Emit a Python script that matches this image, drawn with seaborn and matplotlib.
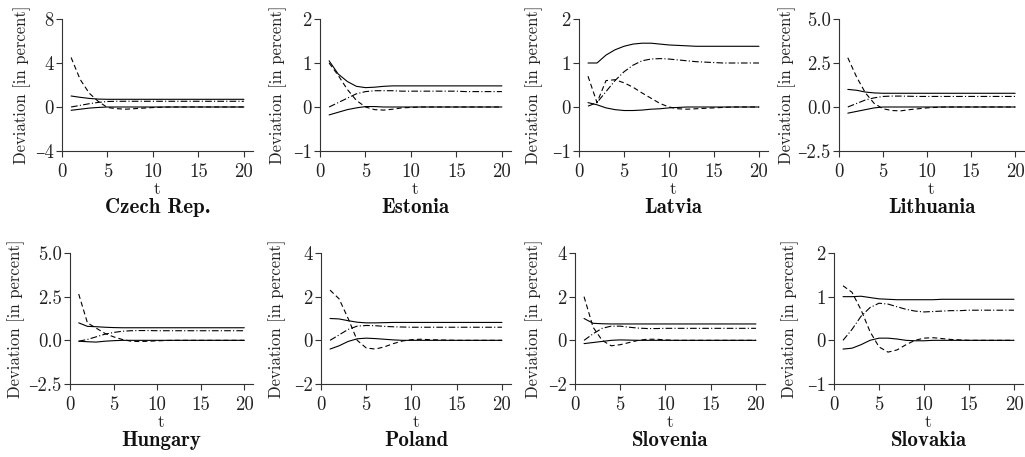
import numpy as np
import pandas as pd
import seaborn as sns
import matplotlib.pyplot as plt
from matplotlib.ticker import FuncFormatter

sns.set_style('ticks')
plt.rcParams['font.family'] = ['cmr10', 'DejaVu Serif']
plt.rcParams['mathtext.fontset'] = 'cm'
plt.rcParams['axes.formatter.use_mathtext'] = True

t = list(range(1, 21))

countries = ['Czech Rep.', 'Estonia', 'Latvia', 'Lithuania',
             'Hungary', 'Poland', 'Slovenia', 'Slovakia']

# solid line starting near 1
solid_a = {
    'Czech Rep.': [1.0, 0.88, 0.78, 0.72, 0.70, 0.70, 0.70, 0.70, 0.70, 0.70, 0.70, 0.70, 0.70, 0.70, 0.70, 0.70, 0.70, 0.70, 0.70, 0.70],
    'Estonia':    [1.05, 0.75, 0.58, 0.47, 0.44, 0.45, 0.47, 0.48, 0.48, 0.48, 0.48, 0.48, 0.48, 0.48, 0.48, 0.48, 0.48, 0.48, 0.48, 0.48],
    'Latvia':     [1.0, 1.0, 1.18, 1.30, 1.38, 1.43, 1.45, 1.45, 1.43, 1.41, 1.40, 1.39, 1.38, 1.38, 1.38, 1.38, 1.38, 1.38, 1.38, 1.38],
    'Lithuania':  [1.0, 0.95, 0.85, 0.80, 0.78, 0.78, 0.78, 0.78, 0.78, 0.78, 0.78, 0.78, 0.78, 0.78, 0.78, 0.78, 0.78, 0.78, 0.78, 0.78],
    'Hungary':    [1.0, 0.80, 0.78, 0.75, 0.73, 0.72, 0.72, 0.72, 0.72, 0.72, 0.72, 0.72, 0.72, 0.72, 0.72, 0.72, 0.72, 0.72, 0.72, 0.72],
    'Poland':     [1.0, 0.98, 0.90, 0.83, 0.80, 0.80, 0.81, 0.82, 0.82, 0.82, 0.82, 0.82, 0.82, 0.82, 0.82, 0.82, 0.82, 0.82, 0.82, 0.82],
    'Slovenia':   [1.0, 0.78, 0.76, 0.75, 0.75, 0.75, 0.75, 0.75, 0.75, 0.75, 0.75, 0.75, 0.75, 0.75, 0.75, 0.75, 0.75, 0.75, 0.75, 0.75],
    'Slovakia':   [1.0, 1.0, 1.01, 0.98, 0.95, 0.94, 0.93, 0.93, 0.93, 0.93, 0.93, 0.94, 0.94, 0.94, 0.94, 0.94, 0.94, 0.94, 0.94, 0.94],
}

# solid line converging to zero
solid_b = {
    'Czech Rep.': [-0.30, -0.20, -0.10, -0.04, 0.0, 0.0, 0.0, 0.0, 0.0, 0.0, 0.0, 0.0, 0.0, 0.0, 0.0, 0.0, 0.0, 0.0, 0.0, 0.0],
    'Estonia':    [-0.18, -0.12, -0.06, -0.02, 0.01, 0.01, 0.0, 0.0, 0.0, 0.0, 0.0, 0.0, 0.0, 0.0, 0.0, 0.0, 0.0, 0.0, 0.0, 0.0],
    'Latvia':     [0.10, 0.05, -0.02, -0.06, -0.08, -0.08, -0.07, -0.05, -0.04, -0.02, -0.01, 0.0, 0.0, 0.0, 0.0, 0.0, 0.0, 0.0, 0.0, 0.0],
    'Lithuania':  [-0.35, -0.25, -0.15, -0.05, 0.0, 0.0, 0.0, 0.0, 0.0, 0.0, 0.0, 0.0, 0.0, 0.0, 0.0, 0.0, 0.0, 0.0, 0.0, 0.0],
    'Hungary':    [-0.05, -0.08, -0.10, -0.05, -0.02, 0.0, 0.0, 0.0, 0.0, 0.0, 0.0, 0.0, 0.0, 0.0, 0.0, 0.0, 0.0, 0.0, 0.0, 0.0],
    'Poland':     [-0.40, -0.25, -0.05, 0.07, 0.10, 0.08, 0.05, 0.02, 0.0, 0.0, 0.0, 0.0, 0.0, 0.0, 0.0, 0.0, 0.0, 0.0, 0.0, 0.0],
    'Slovenia':   [-0.15, -0.10, -0.05, 0.0, 0.02, 0.01, 0.0, 0.0, 0.0, 0.0, 0.0, 0.0, 0.0, 0.0, 0.0, 0.0, 0.0, 0.0, 0.0, 0.0],
    'Slovakia':   [-0.20, -0.18, -0.10, 0.0, 0.05, 0.05, 0.03, 0.0, -0.01, -0.01, 0.0, 0.0, 0.0, 0.0, 0.0, 0.0, 0.0, 0.0, 0.0, 0.0],
}

# dashed line
dashed = {
    'Czech Rep.': [4.5, 2.5, 1.25, 0.5, -0.05, -0.15, -0.2, -0.15, -0.1, -0.05, -0.02, 0.0, 0.0, 0.0, 0.0, 0.0, 0.0, 0.0, 0.0, 0.0],
    'Estonia':    [1.0, 0.72, 0.40, 0.15, 0.0, -0.06, -0.07, -0.05, -0.02, -0.01, 0.0, 0.0, 0.0, 0.0, 0.0, 0.0, 0.0, 0.0, 0.0, 0.0],
    'Latvia':     [0.70, 0.10, 0.60, 0.62, 0.55, 0.45, 0.32, 0.20, 0.08, 0.0, -0.04, -0.05, -0.04, -0.03, -0.02, -0.01, 0.0, 0.0, 0.0, 0.0],
    'Lithuania':  [2.8, 1.7, 0.8, 0.2, -0.1, -0.2, -0.22, -0.15, -0.1, -0.05, -0.02, 0.0, 0.0, 0.0, 0.0, 0.0, 0.0, 0.0, 0.0, 0.0],
    'Hungary':    [2.65, 1.0, 0.7, 0.4, 0.2, 0.05, -0.05, -0.07, -0.05, -0.03, -0.01, 0.0, 0.0, 0.0, 0.0, 0.0, 0.0, 0.0, 0.0, 0.0],
    'Poland':     [2.3, 1.9, 1.0, 0.0, -0.35, -0.4, -0.3, -0.15, -0.03, 0.03, 0.05, 0.03, 0.02, 0.01, 0.0, 0.0, 0.0, 0.0, 0.0, 0.0],
    'Slovenia':   [2.0, 0.6, 0.0, -0.25, -0.2, -0.1, 0.0, 0.05, 0.05, 0.02, 0.0, 0.0, 0.0, 0.0, 0.0, 0.0, 0.0, 0.0, 0.0, 0.0],
    'Slovakia':   [1.25, 1.1, 0.7, 0.2, -0.15, -0.27, -0.22, -0.1, 0.0, 0.05, 0.06, 0.04, 0.02, 0.01, 0.0, 0.0, 0.0, 0.0, 0.0, 0.0],
}

# dash-dot line
dashdot = {
    'Czech Rep.': [0.0, 0.15, 0.3, 0.42, 0.5, 0.52, 0.52, 0.52, 0.52, 0.52, 0.52, 0.52, 0.52, 0.52, 0.52, 0.52, 0.52, 0.52, 0.52, 0.52],
    'Estonia':    [0.0, 0.10, 0.20, 0.30, 0.35, 0.37, 0.37, 0.37, 0.36, 0.36, 0.36, 0.36, 0.36, 0.36, 0.36, 0.35, 0.35, 0.35, 0.35, 0.35],
    'Latvia':     [0.02, 0.10, 0.35, 0.60, 0.80, 0.95, 1.05, 1.09, 1.10, 1.09, 1.07, 1.05, 1.03, 1.02, 1.01, 1.0, 1.0, 1.0, 1.0, 1.0],
    'Lithuania':  [0.0, 0.2, 0.4, 0.52, 0.6, 0.62, 0.62, 0.61, 0.6, 0.6, 0.6, 0.6, 0.6, 0.6, 0.6, 0.6, 0.6, 0.6, 0.6, 0.6],
    'Hungary':    [-0.05, 0.05, 0.2, 0.35, 0.45, 0.52, 0.55, 0.56, 0.56, 0.55, 0.55, 0.55, 0.55, 0.55, 0.55, 0.55, 0.55, 0.55, 0.55, 0.55],
    'Poland':     [0.0, 0.25, 0.5, 0.65, 0.68, 0.67, 0.64, 0.62, 0.61, 0.6, 0.6, 0.6, 0.6, 0.6, 0.6, 0.6, 0.6, 0.6, 0.6, 0.6],
    'Slovenia':   [0.0, 0.3, 0.55, 0.65, 0.65, 0.6, 0.56, 0.54, 0.54, 0.55, 0.55, 0.55, 0.55, 0.55, 0.55, 0.55, 0.55, 0.55, 0.55, 0.55],
    'Slovakia':   [0.0, 0.25, 0.55, 0.75, 0.85, 0.83, 0.77, 0.71, 0.67, 0.65, 0.66, 0.67, 0.68, 0.68, 0.69, 0.69, 0.69, 0.69, 0.69, 0.69],
}

yticks = {
    'Czech Rep.': [-4, 0, 4, 8],
    'Estonia': [-1, 0, 1, 2],
    'Latvia': [-1, 0, 1, 2],
    'Lithuania': [-2.5, 0.0, 2.5, 5.0],
    'Hungary': [-2.5, 0.0, 2.5, 5.0],
    'Poland': [-2, 0, 2, 4],
    'Slovenia': [-2, 0, 2, 4],
    'Slovakia': [-1, 0, 1, 2],
}

W, H = 1025, 457
fig = plt.figure(figsize=(W / 100, H / 100), dpi=100)

# pixel boxes of each panel (left, right, top, bottom) and x of the y-label's right edge
boxes = [(62, 253, 19, 151, 31), (320, 511, 19, 151, 287), (579, 768, 19, 151, 543), (839, 1024, 19, 151, 796),
         (70, 253, 253, 384, 25), (321, 511, 253, 384, 286), (575, 765, 253, 384, 543), (834, 1023, 253, 384, 799)]

styles = [(solid_a, '-'), (solid_b, '-'), (dashed, (0, (4.5, 2.8))), (dashdot, (0, (6, 2, 1, 2)))]


def fmt(decimals):
    def f(v, pos):
        s = f'{abs(v):.{decimals}f}'
        return ('\u2013' + s) if v < 0 else s
    return FuncFormatter(f)


for c, (l, r, tp, bt, lab) in zip(countries, boxes):
    ax = fig.add_axes([l / W, (H - bt) / H, (r - l) / W, (bt - tp) / H])
    for data, ls in styles:
        sns.lineplot(x=t, y=data[c], ax=ax, color='black', linewidth=0.8, linestyle=ls)
    ax.set_xlim(0, 21)
    ax.set_xticks([0, 5, 10, 15, 20])
    ax.xaxis.set_major_formatter(fmt(0))
    yt = yticks[c]
    ax.set_ylim(yt[0], yt[-1])
    ax.set_yticks(yt)
    ax.yaxis.set_major_formatter(fmt(1 if isinstance(yt[0], float) else 0))
    ax.tick_params(labelsize=13.5, length=4, width=0.8, color='#333333', labelcolor='#222222')
    ax.tick_params(axis='x', pad=5)
    ax.tick_params(axis='y', pad=2)
    for s in ['left', 'bottom']:
        ax.spines[s].set_linewidth(0.8)
        ax.spines[s].set_color('#333333')
    sns.despine(ax=ax)
    ax.set_xlabel('t', fontsize=12.5, labelpad=0)
    ax.set_ylabel('Deviation [in percent]', fontsize=12, color='#222222')
    ax.yaxis.set_label_coords((lab - l) / (r - l), 0.5)
    ax.text(0.5, -0.47, c, transform=ax.transAxes, ha='center', va='baseline',
            fontsize=15, family=['cmb10', 'DejaVu Serif'], color='#111111')

plt.savefig('out.png', dpi=100)
